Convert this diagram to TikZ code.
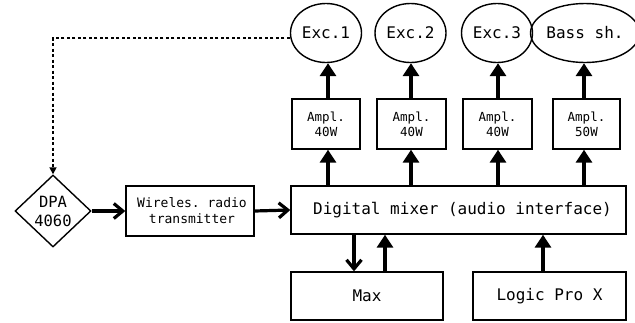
\documentclass[tikz,border=0pt]{standalone}
\usepackage{fontspec}
\setmonofont{DejaVu Sans Mono}
\usetikzlibrary{shapes.geometric,arrows.meta}
\begin{document}
\begin{tikzpicture}[x=1pt,y=-1pt,
  box/.style={draw,line width=1.4pt,rectangle,inner sep=0pt,font=\ttfamily},
  ell/.style={draw,line width=1.4pt,ellipse,inner sep=0pt,font=\ttfamily\fontsize{16}{17}\selectfont},
  upar/.style={line width=3.2pt,-{Triangle[length=13pt,width=16pt]}},
  barb/.style={line width=3.2pt,-{Straight Barb[length=9pt,width=15pt,line width=3.2pt]}},
  dots/.style={line width=1.6pt,dash pattern=on 3pt off 2.5pt,-{Triangle[length=7pt,width=7pt]}}]
\useasboundingbox (0,0) rectangle (635,322);
% ellipses
\node[ell,minimum width=71pt,minimum height=59pt] (e1) at (326,33) {Exc.1};
\node[ell,minimum width=71pt,minimum height=59pt] (e2) at (410.5,33) {Exc.2};
\node[ell,minimum width=71pt,minimum height=59pt] (e3) at (497,33) {Exc.3};
\node[ell,minimum width=86pt,minimum height=59pt] (e4) at (585,33) {Bass sh.};
% amplifiers
\node[box,minimum width=68pt,minimum height=50pt,align=center,font=\ttfamily\fontsize{12.5}{15}\selectfont] (a1) at (326,124) {Ampl.\\40W};
\node[box,minimum width=69pt,minimum height=50pt,align=center,font=\ttfamily\fontsize{12.5}{15}\selectfont] (a2) at (411.5,124) {Ampl.\\40W};
\node[box,minimum width=69pt,minimum height=50pt,align=center,font=\ttfamily\fontsize{12.5}{15}\selectfont] (a3) at (497.5,124) {Ampl.\\40W};
\node[box,minimum width=67pt,minimum height=50pt,align=center,font=\ttfamily\fontsize{12.5}{15}\selectfont] (a4) at (586.5,124) {Ampl.\\50W};
% mixer
\node[box,minimum width=335pt,minimum height=48pt,font=\ttfamily\fontsize{16}{17}\selectfont] (mix) at (458.5,210) {\hspace*{8pt}Digital mixer (audio interface)};
% bottom
\node[box,minimum width=152pt,minimum height=48pt,font=\ttfamily\fontsize{16}{17}\selectfont] (max) at (367,296) {Max};
\node[box,minimum width=153pt,minimum height=48pt,font=\ttfamily\fontsize{16}{17}\selectfont] (lpx) at (549.5,296) {Logic Pro X};
% left
\node[box,minimum width=128pt,minimum height=50pt,align=center,font=\ttfamily\fontsize{13}{16}\selectfont] (wrt) at (190,211) {\hspace*{4pt}Wireles. radio\\\hspace*{4pt}transmitter};
\node[draw,line width=1.4pt,diamond,minimum width=76pt,minimum height=72pt,inner sep=0pt,align=center,font=\ttfamily\fontsize{15.5}{19}\selectfont] (dpa) at (53,211) {DPA\\4060};
% connectors
\foreach \i/\x in {1/328,2/411,3/498,4/584}{
  \draw[upar] (\x,0 |- mix.north) -- (\x,0 |- a\i.south);
  \draw[upar] (\x,0 |- a\i.north) -- (\x,0 |- e\i.south);
}
\draw[barb] (dpa.east) -- (wrt.west);
\draw[barb] (wrt.east) -- (mix.west);
\draw[barb] (354,0 |- mix.south) -- (354,0 |- max.north);
\draw[upar] (385,0 |- max.north) -- (385,0 |- mix.south);
\draw[upar] (543,0 |- lpx.north) -- (543,0 |- mix.south);
\coordinate (corner) at (53,38);
\draw[dots] (e1.west |- corner) -- (corner) -- (dpa.north);
\end{tikzpicture}
\end{document}
